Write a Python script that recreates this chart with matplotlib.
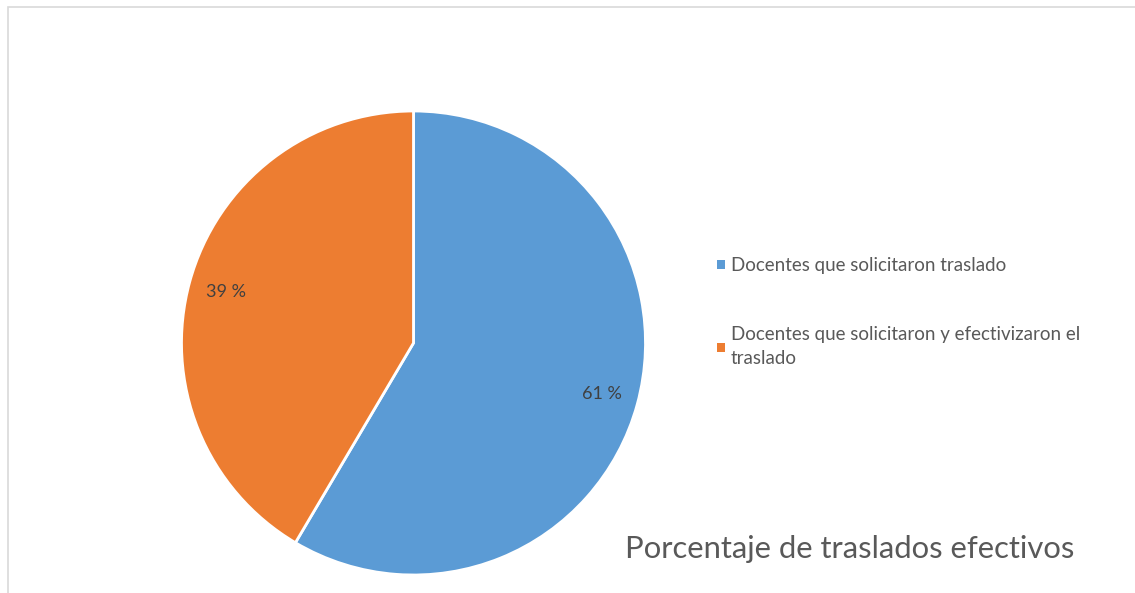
import matplotlib
matplotlib.use('Agg')
import matplotlib.pyplot as plt
from matplotlib.patches import Patch, Rectangle
import numpy as np

# Data
categories = ['Docentes que solicitaron traslado',
              'Docentes que solicitaron y efectivizaron el\ntraslado']
shares = [58.5, 41.5]          # slice sizes as drawn
pct_labels = ['61 %', '39 %']  # labels as printed on the slices
colors = ['#5B9BD5', '#ED7D31']
title = 'Porcentaje de traslados efectivos'

plt.rcParams['font.family'] = ['Lato', 'DejaVu Sans']

W, H = 1135, 593
fig = plt.figure(figsize=(W / 100, H / 100), dpi=100)
fig.patch.set_facecolor('white')

# chart border
fig.add_artist(Rectangle((7.5 / W, -0.1), 1.2, 1.1 - 7.5 / H, transform=fig.transFigure,
                         fill=False, edgecolor='#D9D9D9', linewidth=1.2))

# pie axes: centre (413, 343), radius 232 px
cx, cy, r = 413.5, 343, 232
ax = fig.add_axes([(cx - r) / W, (H - cy - r) / H, 2 * r / W, 2 * r / H])
wedges, _ = ax.pie(shares, colors=colors, startangle=90, counterclock=False,
                   wedgeprops=dict(edgecolor='white', linewidth=2))
ax.set_xlim(-1, 1)
ax.set_ylim(-1, 1)
ax.set_aspect('equal')

for w, lab in zip(wedges, pct_labels):
    ang = np.deg2rad((w.theta1 + w.theta2) / 2)
    ax.text(0.84 * np.cos(ang), 0.84 * np.sin(ang), lab, ha='center', va='center',
            fontsize=13, color='#404040')

handles = [Patch(facecolor=c, edgecolor='none') for c in colors]
leg = fig.legend(handles, categories, loc='upper left', bbox_to_anchor=(717 / W, 1 - 257 / H),
                 frameon=False, fontsize=13.5, labelcolor='#595959', handlelength=0.4,
                 handleheight=0.4, handletextpad=0.35, labelspacing=2.8, borderpad=0,
                 borderaxespad=0)
for t in leg.get_texts():
    t.set_linespacing(1.5)

fig.text(625 / W, 1 - 558 / H, title, fontsize=22.3, color='#595959', va='baseline')

fig.savefig('out.png', dpi=100)
